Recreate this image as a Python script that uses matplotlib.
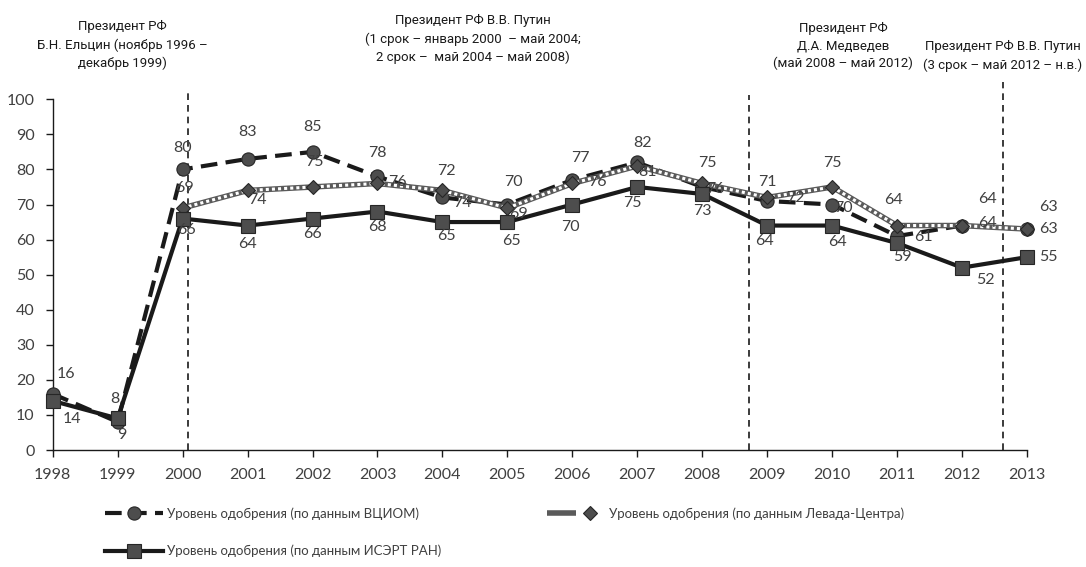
import numpy as np
import matplotlib
matplotlib.use('Agg')
import matplotlib.pyplot as plt
from matplotlib.legend_handler import HandlerTuple
from matplotlib.transforms import Bbox, TransformedBbox

# data
years = np.arange(1998, 2014)
vciom = [16, 8, 80, 83, 85, 78, 72, 70, 77, 82, 75, 71, 70, 61, 64, 63]
levada = [np.nan, np.nan, 69, 74, 75, 76, 74, 69, 76, 81, 76, 72, 75, 64, 64, 63]
isert = [14, 9, 66, 64, 66, 68, 65, 65, 70, 75, 73, 64, 64, 59, 52, 55]

lab_vciom = 'Уровень одобрения (по данным ВЦИОМ)'
lab_levada = 'Уровень одобрения (по данным Левада-Центра)'
lab_isert = 'Уровень одобрения (по данным ИСЭРТ РАН)'

# vertical separators: (x, top of line)
term_lines = [(2000.09, 101.8), (2008.72, 101.3), (2012.63, 105.0)]

# label offsets in pixels (dx, dy), per point
off_vciom = [(13, 20), (-3, 23), (0, 21), (0, 27), (0, 25), (0, 23), (4, 26), (6, 23),
             (8, 22), (5, 19), (5, 24), (0, 19), (11, -3), (26, -1), (25, 27), (21, 22)]
off_levada = [None, None, (2, 20), (10, -10), (2, 25), (20, 1), (20, -13), (11, -6),
              (25, 1), (10, -6), (13, -6), (28, -1), (0, 24), (-4, 26), (25, 3), (21, 0)]
off_isert = [(19, -18), (4, -17), (4, -11), (0, -18), (0, -15), (0, -15), (4, -14), (4, -19),
             (-2, -22), (-5, -16), (0, -17), (-3, -15), (5, -16), (5, -14), (23, -12), (21, 0)]

num_font = ['Lato', 'DejaVu Sans']
ann_font = ['Roboto', 'DejaVu Sans']
txt_col = '#404040'
mk_face = '#4d4d4d'
mk_edge = '#262626'

fig = plt.figure(figsize=(10.86, 5.67), dpi=100)
ax = fig.add_axes([52.7/1086, 1-450/567, (1027-52.7)/1086, (450-99.3)/567])

# VCIOM - dashed with circles
l1, = ax.plot(years, vciom, color='#1a1a1a', lw=3, ls=(0, (4, 2)), marker='o', ms=9.5,
              mfc=mk_face, mec=mk_edge, mew=0.8, zorder=3, clip_on=False)

# Levada - patterned line with diamonds
l2a, = ax.plot(years, levada, color='#5a5a5a', lw=4, zorder=4, clip_on=False,
               solid_capstyle='butt')
l2b, = ax.plot(years, levada, color='white', lw=2.2, ls=(0, (1, 1)), marker='D', ms=7,
               mfc=mk_face, mec=mk_edge, mew=0.8, zorder=4, clip_on=False)

# ISERT - solid with squares
l3, = ax.plot(years, isert, color='#1a1a1a', lw=3, marker='s', ms=9.5,
              mfc=mk_face, mec=mk_edge, mew=0.8, zorder=5, clip_on=False)

for vals, offs in [(vciom, off_vciom), (levada, off_levada), (isert, off_isert)]:
    for x, v, o in zip(years, vals, offs):
        if o is None or np.isnan(v):
            continue
        ax.annotate(str(int(v)), (x, v), xytext=o, textcoords='offset pixels',
                    ha='center', va='center', fontsize=11.5, color=txt_col,
                    family=num_font, zorder=6, annotation_clip=False)

for x, top in term_lines:
    ax.plot([x, x], [0, top], color='#1a1a1a', lw=1.2, ls=(0, (4, 3)), zorder=2, clip_on=False)

ax.set_xlim(1998, 2013)
ax.set_ylim(0, 100)
ax.set_xticks(years)
ax.set_yticks(range(0, 101, 10))
for s in ['top', 'right']:
    ax.spines[s].set_visible(False)
for s in ['left', 'bottom']:
    ax.spines[s].set_color('#1a1a1a')
    ax.spines[s].set_linewidth(1.0)
ax.tick_params(direction='out', length=5, width=1, color='#1a1a1a', labelcolor=txt_col,
               labelsize=11.5, pad=8)
for t in ax.get_xticklabels() + ax.get_yticklabels():
    t.set_family(num_font)

# term captions
def cap(x, y, s, ha='center', clip=None):
    t = fig.text(x/1086, 1-y/567, s, ha=ha, va='center', ma='center', fontsize=9.5,
                 family=ann_font, linespacing=1.45, color='#1a1a1a')
    if clip is not None:
        t.set_clip_box(TransformedBbox(Bbox([[0, 1-clip/567], [1, 1]]), fig.transFigure))
        t.set_clip_on(True)
    return t

cap(122, 45, 'Президент РФ\nБ.Н. Ельцин (ноябрь 1996 –\nдекабрь 1999)')
cap(473, 39, 'Президент РФ В.В. Путин\n(1 срок – январь 2000  – май 2004;\n2 срок –  май 2004 – май 2008)')
cap(843, 46, 'Президент РФ\nД.А. Медведев\n(май 2008 – май 2012)', clip=70)
cap(1082, 56, 'Президент РФ В.В. Путин\n(3 срок – май 2012 – н.в.)', ha='right')

leg = fig.legend([l1, l3, (l2a, l2b)], [lab_vciom, lab_isert, lab_levada],
                 handler_map={tuple: HandlerTuple(ndivide=None)},
                 loc='upper left', bbox_to_anchor=(105/1086, 1-507/567), ncol=2,
                 frameon=False, handlelength=4.4, handletextpad=0.3,
                 labelspacing=1.9, columnspacing=8.0, borderpad=0, borderaxespad=0,
                 prop={'family': num_font, 'size': 9.5})
for t in leg.get_texts():
    t.set_color(txt_col)

fig.savefig('out.png', dpi=100)
